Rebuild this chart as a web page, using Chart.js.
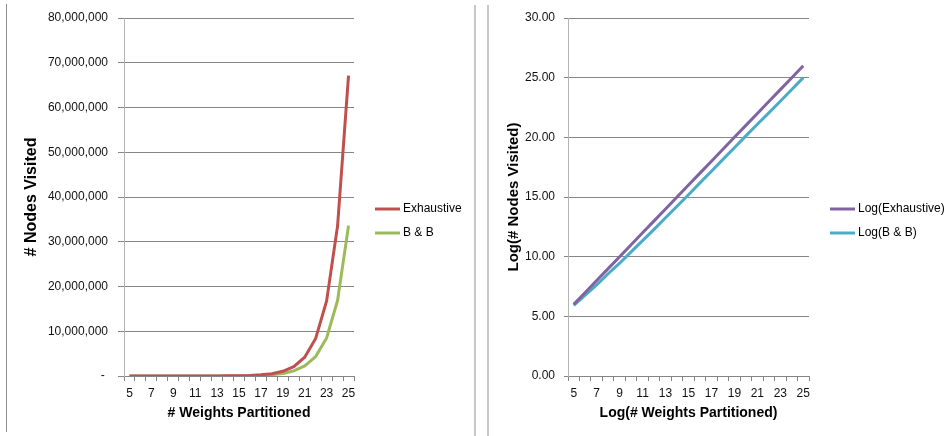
<!DOCTYPE html>
<html>
<head>
<meta charset="utf-8">
<title>Nodes visited</title>
<script src="https://cdn.jsdelivr.net/npm/chart.js@4.4.1/dist/chart.umd.min.js"></script>
<style>
  body { margin: 0; background: #fff; width: 947px; height: 436px; position: relative; overflow: hidden; }
  .panel { position: absolute; top: 0; height: 436px; }
  #leftPanel { left: 0; width: 472px; }
  #rightPanel { left: 489px; width: 458px; }
  .divider { position: absolute; }
</style>
</head>
<body>
<div class="panel" id="leftPanel"><canvas id="nodesChart"></canvas></div>
<div class="panel" id="rightPanel"><canvas id="logChart"></canvas></div>
<div class="divider" style="left:6px; top:4px; width:1px; height:428px; background:#8e8e8e;"></div>
<div class="divider" style="left:474px; top:5px; width:2px; height:431px; background:#c8c8c8;"></div>
<div class="divider" style="left:487px; top:5px; width:2px; height:431px; background:#c8c8c8;"></div>
<script>
const weights = [5, 6, 7, 8, 9, 10, 11, 12, 13, 14, 15, 16, 17, 18, 19, 20, 21, 22, 23, 24, 25];

const exhaustive = [64, 128, 256, 512, 1024, 2048, 4096, 8192, 16384, 32768, 65536, 131072,
  262144, 524288, 1048576, 2097152, 4194304, 8388608, 16777216, 33554432, 67108864];
const branchBound = [60, 110, 200, 380, 700, 1350, 2600, 5000, 9800, 19200, 37500, 74000,
  146000, 290000, 575000, 1140000, 2250000, 4350000, 8500000, 16900000, 33600000];

const logExhaustive = [6.00, 7.00, 8.00, 9.00, 10.00, 11.00, 12.00, 13.00, 14.00, 15.00, 16.00,
  17.00, 18.00, 19.00, 20.00, 21.00, 22.00, 23.00, 24.00, 25.00, 26.00];
const logBranchBound = [5.91, 6.78, 7.64, 8.57, 9.45, 10.40, 11.34, 12.29, 13.26, 14.23, 15.19,
  16.18, 17.16, 18.15, 19.13, 20.12, 21.10, 22.05, 23.02, 24.01, 25.00];

const FONT = '"Liberation Sans", Arial, sans-serif';

// legend drawn to the right of the plot, Excel style
const lineLegend = {
  id: "lineLegend",
  afterDraw(chart, args, opts) {
    const ctx = chart.ctx;
    ctx.save();
    chart.data.datasets.forEach((ds, i) => {
      const y = opts.top + i * opts.spacing;
      ctx.strokeStyle = ds.borderColor;
      ctx.lineWidth = 3;
      ctx.beginPath();
      ctx.moveTo(opts.left, y);
      ctx.lineTo(opts.left + 25, y);
      ctx.stroke();
      ctx.fillStyle = "#000";
      ctx.font = "12px " + FONT;
      ctx.textBaseline = "middle";
      ctx.textAlign = "left";
      ctx.fillText(ds.label, opts.left + 28, y);
    });
    ctx.restore();
  }
};

function lineDataset(label, data, color) {
  return {
    label: label,
    data: data,
    borderColor: color,
    backgroundColor: color,
    borderWidth: 3,
    pointRadius: 0,
    tension: 0,
    fill: false
  };
}

function makeChart(canvasId, cfg) {
  const ctx = document.getElementById(canvasId).getContext("2d");
  return new Chart(ctx, {
    type: "line",
    data: {
      labels: weights,
      datasets: cfg.datasets
    },
    plugins: [lineLegend],
    options: {
      responsive: true,
      maintainAspectRatio: false,
      animation: false,
      layout: { padding: { top: 18, right: cfg.padRight, bottom: 0, left: 0 } },
      plugins: {
        legend: { display: false },
        tooltip: { enabled: false },
        lineLegend: cfg.legend
      },
      scales: {
        x: {
          offset: true,
          afterFit: scale => { scale.height = 60; },
          grid: { offset: true, drawOnChartArea: false, tickLength: 5, color: "#868686" },
          border: { color: "#868686" },
          ticks: {
            autoSkip: false,
            maxRotation: 0,
            padding: 5,
            color: "#111",
            font: { family: FONT, size: 12 },
            callback: function(value, index) {
              return index % 2 === 0 ? this.getLabelForValue(value) : "";
            }
          },
          title: {
            display: true,
            text: cfg.xTitle,
            color: "#000",
            font: { family: FONT, size: 14, weight: "bold" },
            padding: { top: 0, bottom: 14 }
          }
        },
        y: {
          min: 0,
          max: cfg.yMax,
          afterFit: scale => { scale.width = cfg.yWidth; },
          ticks: {
            stepSize: cfg.yStep,
            padding: cfg.tickPad,
            color: "#111",
            font: { family: FONT, size: 12 },
            callback: cfg.yFormat
          },
          grid: { color: "#868686", tickLength: cfg.tickLen },
          border: { color: "#b4b4b4" },
          title: {
            display: true,
            text: cfg.yTitle,
            color: "#000",
            font: { family: FONT, size: cfg.yTitleSize, weight: "bold" },
            padding: { top: cfg.titlePad, bottom: 0 }
          }
        }
      }
    }
  });
}

makeChart("nodesChart", {
  datasets: [
    lineDataset("Exhaustive", exhaustive, "#C0504D"),
    lineDataset("B & B", branchBound, "#9BBB59")
  ],
  padRight: 118,
  yWidth: 124,
  yMax: 80000000,
  yStep: 10000000,
  tickLen: 6,
  tickPad: 10,
  titlePad: 22,
  yTitleSize: 16,
  yFormat: value => value === 0 ? "- " : value.toLocaleString("en-US"),
  xTitle: "# Weights Partitioned",
  yTitle: "# Nodes Visited",
  legend: { left: 375, top: 209, spacing: 24 }
});

makeChart("logChart", {
  datasets: [
    lineDataset("Log(Exhaustive)", logExhaustive, "#8064A2"),
    lineDataset("Log(B & B)", logBranchBound, "#4BACC6")
  ],
  padRight: 138,
  yWidth: 79,
  yMax: 30,
  yStep: 5,
  tickLen: 4,
  tickPad: 9,
  titlePad: 16,
  yTitleSize: 15,
  yFormat: value => value.toFixed(2),
  xTitle: "Log(# Weights Partitioned)",
  yTitle: "Log(# Nodes Visited)",
  legend: { left: 341, top: 209, spacing: 24 }
});
</script>
</body>
</html>
